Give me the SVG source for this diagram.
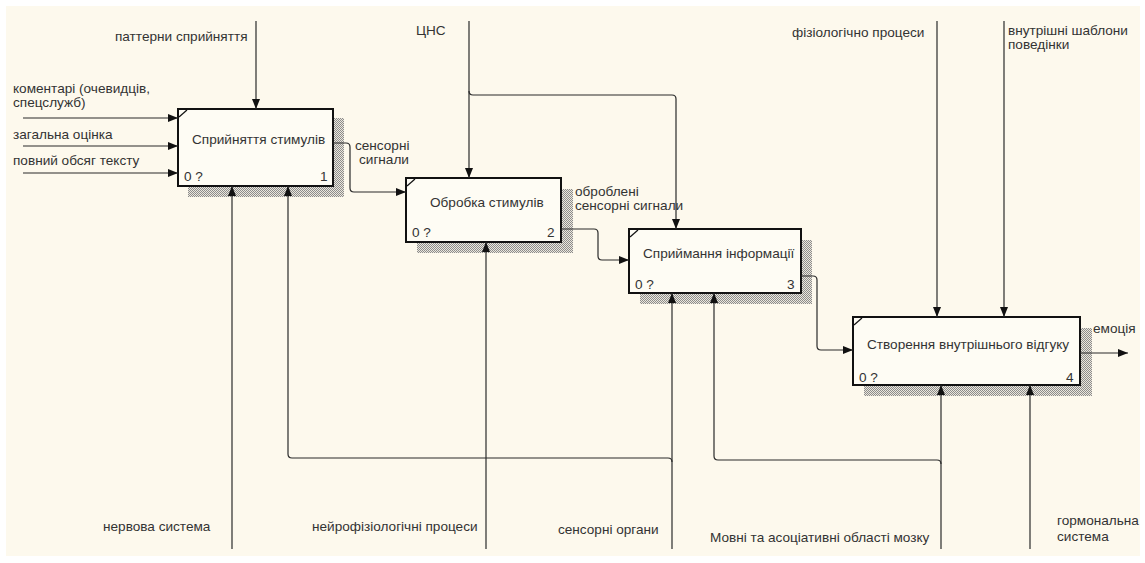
<svg xmlns="http://www.w3.org/2000/svg" width="1145" height="563" viewBox="0 0 1145 563">
  <defs>
    <pattern id="hatch" width="2" height="2" patternUnits="userSpaceOnUse">
      <rect width="2" height="2" fill="#ebe7dc"/>
      <rect x="0" y="0" width="1" height="1" fill="#8c8c8c"/>
      <rect x="1" y="1" width="1" height="1" fill="#8c8c8c"/>
    </pattern>
    <marker id="arrow" viewBox="0 0 10 8" refX="10" refY="4" markerWidth="10" markerHeight="8" markerUnits="userSpaceOnUse" orient="auto">
      <path d="M0,0 L10,4 L0,8 Z" fill="#111"/>
    </marker>
    <style>
      text { font-family: "Liberation Sans", Arial, sans-serif; font-size: 13.6px; fill: #333; }
      .box { fill: #fefcf4; stroke: #111; stroke-width: 2; }
      .shadow { fill: url(#hatch); }
      .corner { stroke: #111; stroke-width: 1.2; fill: none; }
      .conn { fill: none; stroke: #2a2a2a; stroke-width: 1.2; }
      .arr { marker-end: url(#arrow); }
    </style>
  </defs>

  <rect x="0" y="0" width="1145" height="563" fill="#ffffff"/>
  <rect x="6" y="6" width="1134" height="550" fill="#fdf9ed"/>

  <!-- activity boxes -->
  <g id="node-a1">
    <rect class="shadow" x="188" y="118" width="156" height="79"/>
    <rect class="box" x="178" y="109" width="155" height="77"/>
    <path class="corner" d="M179,117 L187,110"/>
    <text x="192" y="144">Сприйняття стимулів</text>
    <text x="184" y="181">0 ?</text>
    <text x="320" y="181">1</text>
  </g>
  <g id="node-a2">
    <rect class="shadow" x="417" y="189" width="156" height="64"/>
    <rect class="box" x="406" y="178" width="155" height="64"/>
    <path class="corner" d="M407,186 L415,179"/>
    <text x="430" y="207">Обробка стимулів</text>
    <text x="412" y="237">0 ?</text>
    <text x="547" y="237">2</text>
  </g>
  <g id="node-a3">
    <rect class="shadow" x="640" y="240" width="172" height="64"/>
    <rect class="box" x="629" y="229" width="172" height="64"/>
    <path class="corner" d="M630,237 L638,230"/>
    <text x="643" y="258">Сприймання інформації</text>
    <text x="635" y="289">0 ?</text>
    <text x="787" y="289">3</text>
  </g>
  <g id="node-a4">
    <rect class="shadow" x="864" y="328" width="228" height="68"/>
    <rect class="box" x="853" y="317" width="227" height="68"/>
    <path class="corner" d="M854,325 L862,318"/>
    <text x="867" y="349">Створення внутрішнього відгуку</text>
    <text x="859" y="382">0 ?</text>
    <text x="1066" y="382">4</text>
  </g>

  <!-- arrows between and around the boxes -->
  <g id="connectors">
    <!-- controls from above -->
    <path class="conn arr" d="M256,21 V109"/>
    <path class="conn arr" d="M469,21 V178"/>
    <path class="conn arr" d="M469,91 Q469,95 473,95 H672 Q676,95 676,99 V229"/>
    <path class="conn arr" d="M937,21 V317"/>
    <path class="conn arr" d="M1004,21 V317"/>

    <!-- inputs -->
    <path class="conn arr" d="M23,118 H178"/>
    <path class="conn arr" d="M23,146 H178"/>
    <path class="conn arr" d="M23,173 H178"/>

    <!-- box to box -->
    <path class="conn arr" d="M333,143 H346 Q350,143 350,147 V188 Q350,192 354,192 H406"/>
    <path class="conn arr" d="M561,229 H594 Q598,229 598,233 V256 Q598,260 602,260 H629"/>
    <path class="conn arr" d="M801,276 H813 Q817,276 817,280 V346 Q817,350 821,350 H853"/>

    <!-- output -->
    <path class="conn arr" d="M1080,353 H1128"/>

    <!-- mechanisms from below -->
    <path class="conn arr" d="M232,549 V186"/>
    <path class="conn arr" d="M486,549 V242"/>
    <path class="conn arr" d="M672,549 V293"/>
    <path class="conn arr" d="M672,462 Q672,458 668,458 H292 Q288,458 288,454 V186"/>
    <path class="conn arr" d="M941,549 V385"/>
    <path class="conn arr" d="M941,464 Q941,460 937,460 H718 Q714,460 714,456 V293"/>
    <path class="conn arr" d="M1030,549 V385"/>
  </g>

  <!-- arrow labels -->
  <g id="labels">
    <text x="115" y="41">паттерни сприйняття</text>
    <text x="416" y="35">ЦНС</text>
    <text x="792" y="37">фізіологічно процеси</text>
    <text x="1008" y="35">внутрішні шаблони</text>
    <text x="1008" y="49">поведінки</text>

    <text x="13" y="93">коментарі (очевидців,</text>
    <text x="13" y="107">спецслужб)</text>
    <text x="13" y="139">загальна оцінка</text>
    <text x="13" y="165">повний обсяг тексту</text>

    <text x="355" y="150">сенсорні</text>
    <text x="359" y="164">сигнали</text>
    <text x="575" y="196">оброблені</text>
    <text x="575" y="210">сенсорні сигнали</text>
    <text x="1093" y="333">емоція</text>

    <text x="103" y="531">нервова система</text>
    <text x="312" y="531">нейрофізіологічні процеси</text>
    <text x="558" y="534">сенсорні органи</text>
    <text x="710" y="542">Мовні та асоціативні області мозку</text>
    <text x="1057" y="525">гормональна</text>
    <text x="1057" y="541">система</text>
  </g>
</svg>
